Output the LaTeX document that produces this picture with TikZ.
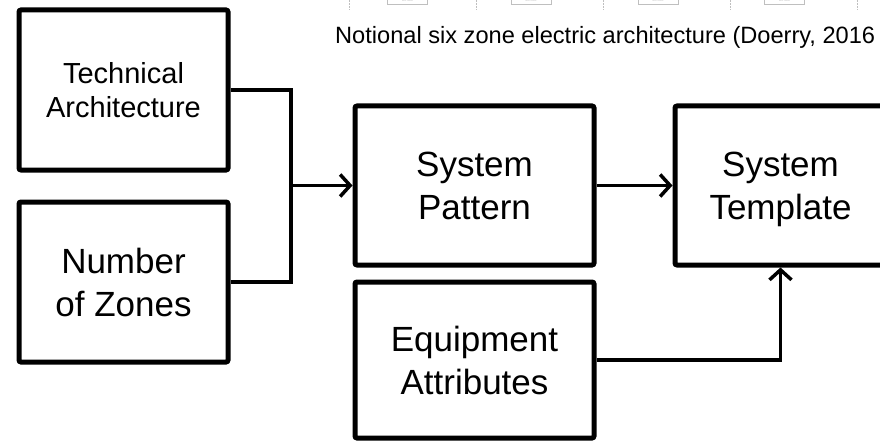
\documentclass[tikz,border=0pt]{standalone}
\usepackage{fontspec}
\setmainfont{Liberation Sans}
\usetikzlibrary{arrows.meta, positioning}
\definecolor{faint}{gray}{0.75}

\begin{document}
\begin{tikzpicture}[x=1pt, y=-1pt,
  every node/.style = {font=\fontsize{35}{43}\selectfont},
  srcbox/.style     = {draw=black, line width=5pt, rounded corners=2pt,
                       align=center, minimum width=209pt, minimum height=160pt,
                       inner sep=0pt},
  stepbox/.style    = {srcbox, minimum width=239pt, minimum height=159pt},
  flow/.style       = {-{Straight Barb[length=10pt, width=22pt]}, draw=black,
                       line width=3.5pt},
  link/.style       = {draw=black, line width=3.5pt},
  busnode/.style    = {draw=faint, line width=0.5pt, minimum width=40pt,
                       minimum height=7pt, inner sep=0pt, text=faint,
                       font=\fontsize{2.5}{3}\selectfont},
]
  \clip (0,0) rectangle (880,441);

  % ------------------------------------------------------ cropped figure
  \foreach \x in {349,476,603,730,857}
    \draw[faint, densely dotted, line width=0.5pt] (\x,0) -- (\x,10);
  \foreach \x/\n in {407.5/1, 531/2, 658/3, 784.5/4}
    \node[busnode] (bus\n) at (\x,1) {Bus Node};
  \node[font=\fontsize{23.6}{28}\selectfont, anchor=base west, inner sep=0pt]
        (caption) at (335,44) {Notional six zone electric architecture (Doerry, 2016};

  % ------------------------------------------------------------- inputs
  \node[srcbox, font=\fontsize{29}{34}\selectfont] (tech) at (123.5,90)
        {Technical\\Architecture};
  \node[srcbox, below=27pt of tech] (zones) {Number\\of Zones};

  % -------------------------------------------------------------- steps
  \node[stepbox] (pattern) at (474.5,185.5) {System\\Pattern};
  \node[stepbox, minimum width=211pt, right=76pt of pattern] (template)
        {System\\\smash{Template}};
  \node[stepbox, minimum height=156pt, below=12pt of pattern] (attrib)
        {Equipment\\Attributes};

  % ------------------------------------------------------------ linkage
  \coordinate (join) at (291,185.5);
  \draw[link] (tech.east) -| (join) |- (zones.east);
  \draw[flow] (join) -- (pattern.west);
  \draw[flow] (pattern) -- (template);
  \draw[flow] (attrib.east) -| (template.south);

\end{tikzpicture}
\end{document}
